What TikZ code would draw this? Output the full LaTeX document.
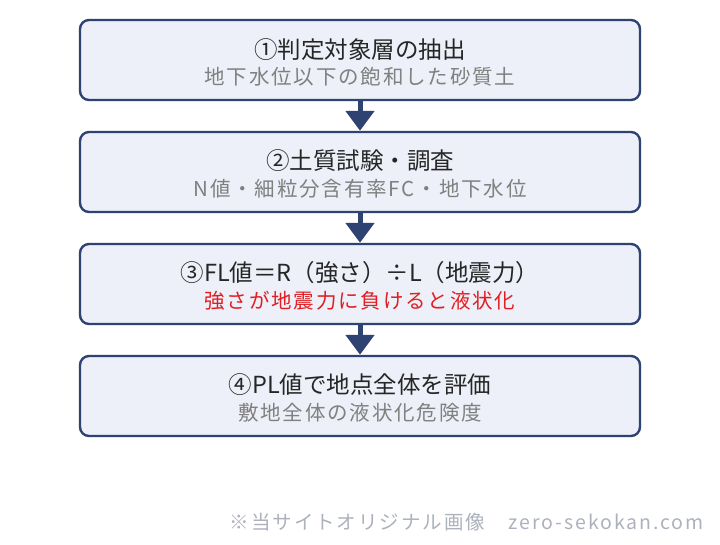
\documentclass[tikz,border=0pt]{standalone}
\usepackage{fontspec}
\usepackage{tikz}
\usetikzlibrary{arrows.meta}
\setmainfont{Noto Sans CJK JP}
\newfontfamily\subfont[LetterSpace=9]{Noto Sans CJK JP}
\newfontfamily\notefont[LetterSpace=10]{Noto Sans CJK JP}
\definecolor{flnavy}{RGB}{46,67,114}
\definecolor{flpale}{RGB}{237,240,248}
\definecolor{fltext}{RGB}{38,38,38}
\definecolor{flgray}{RGB}{128,128,128}
\definecolor{flred}{RGB}{225,30,35}
\definecolor{flnote}{RGB}{172,177,188}

\begin{document}
\begin{tikzpicture}[
  x=1pt, y=-1pt,
  stepbox/.style={rectangle, rounded corners=9pt, draw=flnavy, line width=2.4pt, fill=flpale, minimum width=560pt, minimum height=80pt, inner sep=0pt, align=center, text=fltext},
  arrow/.style={-{Triangle[width=28pt, length=20pt]}, line width=5pt, color=flnavy}
]
\useasboundingbox (0,0) rectangle (720,544);

% Flow boxes
\node[stepbox] (s1) at (360,60) {{\fontsize{23.5}{30}\selectfont\rule{0pt}{24pt}①判定対象層の抽出}\\[6pt]{\subfont\fontsize{20.5}{30}\selectfont\color{flgray}地下水位以下の飽和した砂質土}};
\node[stepbox] (s2) at (360,172) {{\fontsize{23.5}{30}\selectfont\rule{0pt}{24pt}②土質試験・調査}\\[6pt]{\subfont\fontsize{20.5}{30}\selectfont\color{flgray}N値・細粒分含有率FC・地下水位}};
\node[stepbox] (s3) at (360,284) {{\fontsize{23.5}{30}\selectfont\rule{0pt}{24pt}③FL値＝R（強さ）÷L（地震力）}\\[6pt]{\subfont\fontsize{20.5}{30}\selectfont\color{flred}強さが地震力に負けると液状化}};
\node[stepbox] (s4) at (360,396) {{\fontsize{23.5}{30}\selectfont\rule{0pt}{24pt}④PL値で地点全体を評価}\\[6pt]{\subfont\fontsize{20.5}{30}\selectfont\color{flgray}敷地全体の液状化危険度}};

% Arrows
\draw[arrow] (s1.south) -- (s2.north);
\draw[arrow] (s2.south) -- (s3.north);
\draw[arrow] (s3.south) -- (s4.north);

% Credit
\node[anchor=east, text=flnote, font=\notefont\fontsize{19.5}{22}\selectfont, inner sep=0pt] (credit) at (704,522) {※当サイトオリジナル画像　zero-sekokan.com};
\end{tikzpicture}
\end{document}
